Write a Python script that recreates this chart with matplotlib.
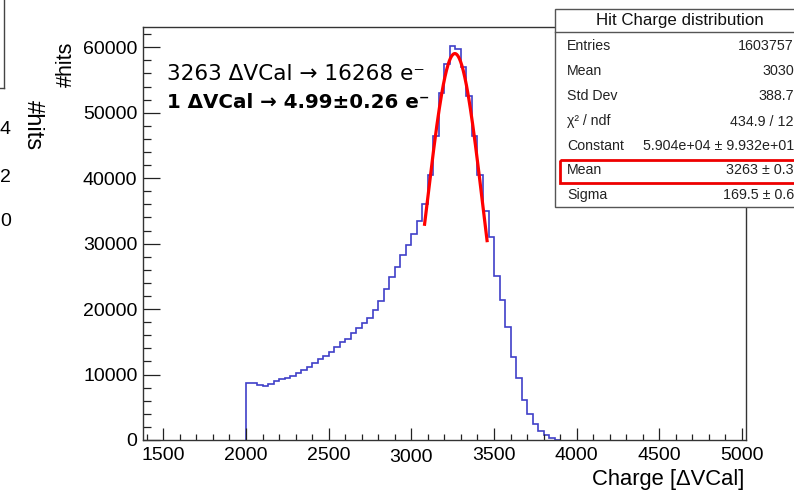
import numpy as np
import matplotlib
matplotlib.use("Agg")
import matplotlib.pyplot as plt
from matplotlib.patches import Rectangle

plt.rcParams['font.family'] = ['Liberation Sans', 'DejaVu Sans']

# ---------------- data ----------------
bin_width = 100 / 3
bin_start = 2000
hist_counts = [8700, 8650, 8450, 8300, 8600, 9000, 9300, 9500, 9750, 10250,
               10700, 11100, 11700, 12300, 12850, 13500, 14200, 14900, 15500, 16300,
               17100, 17900, 18600, 19900, 21300, 23000, 24900, 26500, 28300, 29800,
               31500, 33500, 36000, 40500, 46500, 53000, 57500, 60200, 59700, 57000,
               52500, 46500, 40500, 35000, 31000, 25000, 21400, 17200, 12700, 9400,
               6100, 4000, 2500, 1400, 700, 250, 60]

fit_constant = 5.904e4
fit_mean = 3263
fit_sigma = 169.5
fit_range = (3080, 3458)

stats_title = "Hit Charge distribution"
stats_labels = ["Entries", "Mean", "Std Dev", "χ² / ndf", "Constant", "Mean", "Sigma"]
stats_values = ["1603757", "3030", "388.7", "434.9 / 12",
                "5.904e+04 ± 9.932e+01", "3263 ± 0.3", "169.5 ± 0.6"]

x_major = [1500, 2000, 2500, 3000, 3500, 4000, 4500, 5000]
y_major = [0, 10000, 20000, 30000, 40000, 50000, 60000]

W, H = 794, 492
fig = plt.figure(figsize=(W / 100, H / 100), dpi=100)
fig.patch.set_facecolor('white')

L, R, T, B = 143, 746, 27, 440
ax = fig.add_axes([L / W, 1 - B / H, (R - L) / W, (B - T) / H])
ax.set_xlim(1377, 5024)
ax.set_ylim(0, 63100)

edges = bin_start + bin_width * np.arange(len(hist_counts) + 1)
ax.stairs(hist_counts, edges, color='#4040c8', lw=1.2, baseline=0)

xf = np.linspace(fit_range[0], fit_range[1], 200)
yf = fit_constant * np.exp(-0.5 * ((xf - fit_mean) / fit_sigma) ** 2)
ax.plot(xf, yf, color='#ff0000', lw=2.3)

ax.set_xticks(x_major)
ax.set_xticks(np.arange(1400, 5001, 100), minor=True)
ax.set_yticks(y_major)
ax.set_yticks(np.arange(0, 63001, 2000), minor=True)
ax.set_xticklabels([str(v) for v in x_major])
ax.set_yticklabels([str(v) for v in y_major])
ax.tick_params(axis='x', which='major', direction='in', length=8.9, width=0.9, labelsize=14, pad=5, color='#222')
ax.tick_params(axis='x', which='minor', direction='in', length=4.5, width=0.9, color='#222')
ax.tick_params(axis='y', which='major', direction='in', length=12.2, width=0.9, labelsize=14, pad=4, color='#222')
ax.tick_params(axis='y', which='minor', direction='in', length=6.1, width=0.9, color='#222')
for tk in ax.xaxis.get_major_ticks():
    if tk.get_loc() == 3000:
        tk.set_pad(6.5)
for s in ax.spines.values():
    s.set_color('#333333')
    s.set_linewidth(1.0)

# ---------------- overlay in pixel coords ----------------
ov = fig.add_axes([0, 0, 1, 1], zorder=10)
ov.set_xlim(0, W)
ov.set_ylim(H, 0)
ov.axis('off')
ov.patch.set_alpha(0)

ov.text(66, 42, "#hits", rotation=90, ha='center', va='top', fontsize=15.5)
ov.text(744, 480, "Charge [ΔVCal]", ha='right', va='center', fontsize=15.8)

ov.text(167, 74, "3263 ΔVCal → 16268 e⁻", ha='left', va='center', fontsize=15.6,
        family='DejaVu Sans')
ov.text(167, 102, "1 ΔVCal → 4.99±0.26 e⁻", ha='left', va='center', fontsize=14.3,
        fontweight='bold', family='DejaVu Sans')

# stats box
ov.add_patch(Rectangle((555, 9), 260, 198, facecolor='white', edgecolor='#555555', lw=1.0))
ov.plot([555, 800], [32, 32], color='#555555', lw=1.0)
ov.text(680, 21, stats_title, ha='center', va='center', fontsize=12.2, color='#111')
row_y = [46.5, 71, 96.5, 121.5, 146, 170.5, 195]
for lab, val, yy in zip(stats_labels, stats_values, row_y):
    ov.text(567, yy, lab, ha='left', va='center', fontsize=10.2, color='#222')
    ov.text(794, yy, val, ha='right', va='center', fontsize=10.3, color='#222')
ov.add_patch(Rectangle((560, 159.5), 250, 23, fill=False, edgecolor='#ee0000', lw=2.0))

# left-side remnants of a neighbouring plot
ov.plot([4, 4], [0, 88], color='#444', lw=1.0)
ov.plot([0, 4], [88, 88], color='#444', lw=1.0)
ov.text(33, 125, "#hits", rotation=270, ha='center', va='center', fontsize=17)
ov.text(0, 130, "4", ha='left', va='center', fontsize=14)
ov.text(0, 178, "2", ha='left', va='center', fontsize=14)
ov.text(0, 221, "0", ha='left', va='center', fontsize=14)

fig.savefig("out.png", dpi=100)
